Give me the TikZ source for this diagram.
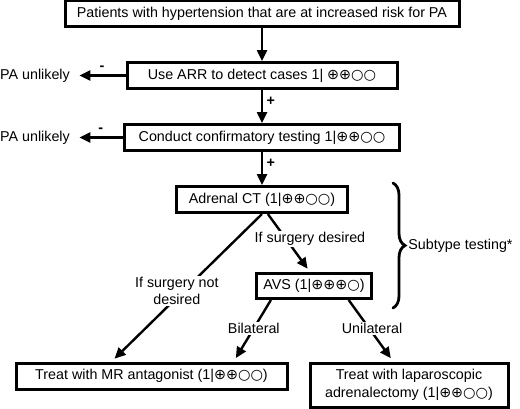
\documentclass[tikz,border=0pt]{standalone}
\usepackage{fontspec}
\setmainfont{Liberation Sans}
\newfontfamily\symfont{DejaVu Sans}
\usetikzlibrary{arrows.meta, positioning, decorations.pathreplacing}
\newcommand*{\gplus}{{\symfont ⊕}}
\newcommand*{\gcirc}{{\symfont ○}}

\begin{document}
\begin{tikzpicture}[x=1pt, y=-1pt, node distance=62pt, on grid, >={Triangle[length=11pt,width=10pt]},
      every node/.style={font=\fontsize{14.3}{17.5}\selectfont},
      box/.style={draw, line width=3pt, inner sep=0pt, minimum height=26pt},
      flow/.style={->, line width=2.4pt, shorten >=4pt},
      lbl/.style={fill=white, inner sep=1pt, align=center}]
      \useasboundingbox (0,0) rectangle (520,408);
      \node[box, minimum width=394pt] (risk) at (262,13.5) {Patients with hypertension that are at increased risk for PA};
      \node[box, minimum width=270pt] (arr) [below=of risk] {Use ARR to detect cases 1| \gplus\gplus\gcirc\gcirc};
      \node[box, minimum width=275pt] (conf) [below=of arr] {Conduct confirmatory testing 1|\gplus\gplus\gcirc\gcirc};
      \node[box, minimum width=171pt] (ct) [below=of conf] {Adrenal CT (1|\gplus\gplus\gcirc\gcirc)};
      \node[box, minimum width=115pt, minimum height=25pt] (avs) [below right=86.5pt and 52pt of ct] {AVS (1|\gplus\gplus\gplus\gcirc)};
      \node[box, minimum width=271pt] (mr) at (151.5,376) {Treat with MR antagonist (1|\gplus\gplus\gcirc\gcirc)};
      \node[box, minimum width=198pt, minimum height=44pt, align=center] (lap) at (409,385) {Treat with laparoscopic\\adrenalectomy (1|\gplus\gplus\gcirc\gcirc)};
      \node (no1) [left=227pt of arr] {PA unlikely};
      \node (no2) [left=227pt of conf] {PA unlikely};
      \draw[flow, shorten >=0pt] (risk) -- (arr);
      \draw[flow, shorten >=0pt] (arr) -- node[right, pos=0.35] {\bfseries +} (conf);
      \draw[flow, shorten >=0pt] (conf) -- node[right, pos=0.35] {\bfseries +} (ct);
      \draw[flow, shorten >=6pt] (arr) -- node[above, pos=0.45] {\bfseries -} (no1);
      \draw[flow, shorten >=6pt] (conf) -- node[above, pos=0.45] {\bfseries -} (no2);
      \draw[flow] (ct.south) -- node[lbl, pos=0.52, xshift=-7pt] {If surgery not\\desired} (mr.160);
      \draw[flow] (ct.-68) -- node[lbl, pos=0.43, xshift=24pt] {If surgery desired} (avs.106);
      \draw[flow] (avs.-162) -- node[lbl, pos=0.46] {Bilateral} (mr.10);
      \draw[flow] (avs.-22) -- node[lbl, pos=0.46, xshift=3pt] {Unilateral} (lap.124);
      % subtype bracket
      \draw[line width=2.8pt, line cap=round, decorate, decoration={brace, amplitude=12pt}]
        (393,183) -- (393,308) node[midway, anchor=west, xshift=14pt, inner sep=0pt] (sub) {Subtype testing*};
\end{tikzpicture}
\end{document}
